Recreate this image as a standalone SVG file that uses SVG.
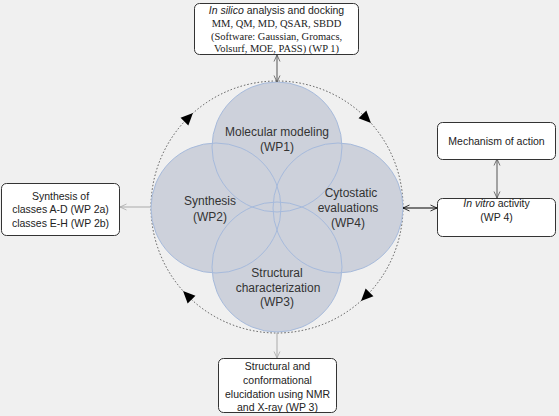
<svg xmlns="http://www.w3.org/2000/svg" width="559" height="416" viewBox="0 0 559 416">
<defs>
<style>
.box{fill:#fff;stroke:#333;stroke-width:1}
.bt{font-family:"Liberation Sans",Arial,sans-serif;font-size:10.5px;fill:#222;text-anchor:middle}
.st{font-family:"Liberation Serif","Times New Roman",serif;font-size:10.5px;fill:#222;text-anchor:middle}
.ct{font-family:"Liberation Sans",Arial,sans-serif;font-size:12px;fill:#333;text-anchor:middle}
.cf{fill:#cdd1db}
.cs{fill:none;stroke:#a6badb;stroke-width:1}
.ln{fill:none;stroke-width:1}
</style>
<marker id="ah" viewBox="0 0 8 8" refX="7.5" refY="4" markerWidth="8" markerHeight="8" markerUnits="userSpaceOnUse" orient="auto-start-reverse">
<path d="M1,1 L7.5,4 L1,7" fill="none" stroke="context-stroke" stroke-width="0.8"/>
</marker>
<path id="tri" d="M7,0 L-5,-5.5 L-5,5.5 Z" fill="#000"/>
</defs>
<rect width="559" height="416" fill="#f0f0f0"/>

<g id="cycle">
<circle cx="277" cy="207" r="126" fill="none" stroke="#333" stroke-width="0.8" stroke-dasharray="1.5 2"/>
<use href="#tri" transform="translate(188,118) rotate(-45)"/>
<use href="#tri" transform="translate(366,118) rotate(45)"/>
<use href="#tri" transform="translate(366,296) rotate(135)"/>
<use href="#tri" transform="translate(188,296) rotate(225)"/>
</g>

<g id="circles">
<circle class="cf" cx="277" cy="147" r="65"/>
<circle class="cf" cx="216" cy="208" r="65"/>
<circle class="cf" cx="338" cy="208" r="65"/>
<circle class="cf" cx="277" cy="267" r="65"/>
<circle class="cs" cx="277" cy="147" r="65"/>
<circle class="cs" cx="216" cy="208" r="65"/>
<circle class="cs" cx="338" cy="208" r="65"/>
<circle class="cs" cx="277" cy="267" r="65"/>
</g>

<g id="wp1"><text class="ct" x="277" y="136">Molecular modeling</text><text class="ct" x="277" y="151">(WP1)</text></g>
<g id="wp2"><text class="ct" x="210" y="205">Synthesis</text><text class="ct" x="210" y="221">(WP2)</text></g>
<g id="wp4"><text class="ct" x="351" y="197">Cytostatic</text><text class="ct" x="348" y="212">evaluations</text><text class="ct" x="348" y="227">(WP4)</text></g>
<g id="wp3"><text class="ct" x="277" y="277">Structural</text><text class="ct" x="278" y="292">characterization</text><text class="ct" x="277" y="306">(WP3)</text></g>

<g id="connectors">
<line class="ln" x1="277" y1="55" x2="277" y2="82" stroke="#555" marker-start="url(#ah)" marker-end="url(#ah)"/>
<line class="ln" x1="120" y1="207" x2="150" y2="207" stroke="#aaa" marker-start="url(#ah)"/>
<line class="ln" x1="403" y1="208" x2="437" y2="208" stroke="#000" marker-start="url(#ah)" marker-end="url(#ah)"/>
<line class="ln" x1="497" y1="159" x2="497" y2="198" stroke="#555" marker-start="url(#ah)" marker-end="url(#ah)"/>
<line class="ln" x1="277" y1="333" x2="277" y2="358" stroke="#aaa" marker-end="url(#ah)"/>
</g>

<g id="insilico">
<rect class="box" x="194.5" y="3.5" width="164" height="51" rx="5"/>
<text class="bt" x="276.5" y="14"><tspan font-style="italic">In silico</tspan> analysis and docking</text>
<text class="st" x="276.5" y="27">MM, QM, MD, QSAR, SBDD</text>
<text class="st" x="276.5" y="39.5">(Software: Gaussian, Gromacs,</text>
<text class="st" x="276.5" y="52">Volsurf, MOE, PASS) (WP 1)</text>
</g>

<g id="synthesis-box">
<rect class="box" x="1.5" y="183.5" width="118" height="52" rx="5"/>
<text class="bt" x="60.5" y="200">Synthesis of</text>
<text class="bt" x="60.5" y="213">classes A-D (WP 2a)</text>
<text class="bt" x="60.5" y="227">classes E-H (WP 2b)</text>
</g>

<g id="mechanism">
<rect class="box" x="437.5" y="122.5" width="118" height="37" rx="5"/>
<text class="bt" x="496.5" y="145">Mechanism of action</text>
</g>

<g id="invitro">
<rect class="box" x="437.5" y="198.5" width="118" height="38" rx="5"/>
<text class="bt" x="496.5" y="207"><tspan font-style="italic">In vitro</tspan> activity</text>
<text class="bt" x="496.5" y="221">(WP 4)</text>
</g>

<g id="structural-box">
<rect class="box" x="218.5" y="358.5" width="118" height="54" rx="5"/>
<text class="bt" x="277.5" y="370">Structural and</text>
<text class="bt" x="277.5" y="384">conformational</text>
<text class="bt" x="277.5" y="397.5">elucidation using NMR</text>
<text class="bt" x="277.5" y="411">and X-ray (WP 3)</text>
</g>
</svg>
